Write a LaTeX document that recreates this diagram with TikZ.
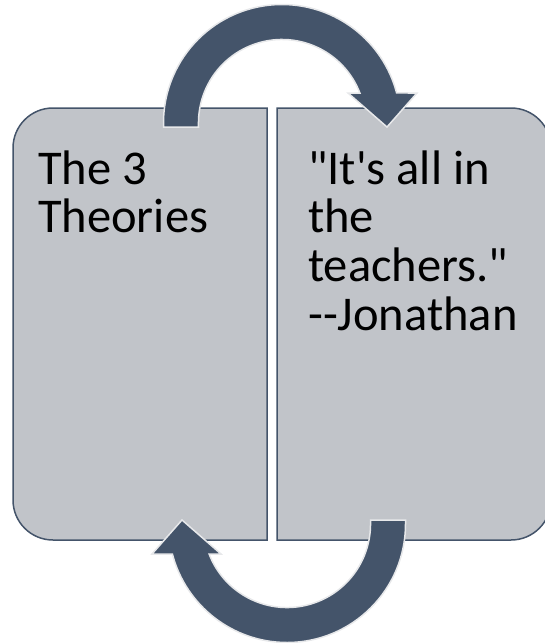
\documentclass[tikz,border=0pt]{standalone}
\usepackage{fontspec}
\setmainfont{Carlito}[Ligatures=TeXOff]
\usetikzlibrary{positioning}
\definecolor{slate}{HTML}{44546A}
\definecolor{panelgray}{HTML}{C1C4C9}
\definecolor{rim}{HTML}{E7E8EA}

\begin{document}
\begin{tikzpicture}[x=1pt, y=1pt, panel/.style={fill=panelgray, draw=slate, line width=1.5pt}, saying/.style={anchor=base west, inner sep=0pt, align=left, font=\fontsize{48.5}{48.8}\selectfont}, cyclearrow/.pic={\fill[slate, draw=rim, line width=1.5pt] (-118.5,-4) -- (-118.5,0) arc[start angle=180, end angle=14.67, radius=118.5] -- (135,30) -- (105,-4) -- (66,30) -- (77.9,30) arc[start angle=21.05, end angle=180, radius=83.5] -- (-83.5,-4) -- cycle;}]
            \useasboundingbox (0,0) rectangle (545,-643);
            \clip (0,0) rectangle (545,-643);
            % panels
            \draw[panel] (267,-108) -- (53,-108) arc[start angle=90, end angle=180, radius=40] -- (13,-500) arc[start angle=180, end angle=270, radius=40] -- (267,-540) -- cycle;
            \draw[panel] (277,-108) -- (511,-108) arc[start angle=90, end angle=0, radius=40] -- (551,-500) arc[start angle=0, end angle=-90, radius=40] -- (277,-540) -- cycle;
            % texts (anchored at the last line)
            \node[saying] (theories) at (38,-232.8) {The 3\\Theories};
            \node[saying] (jonathan) at (308,-330.4) {"It's all in\\the\\teachers."\\--Jonathan};
            % arrows
            \pic at (282,-123) {cyclearrow};
            \pic[rotate=180] at (287,-524) {cyclearrow};
        \end{tikzpicture}
\end{document}
